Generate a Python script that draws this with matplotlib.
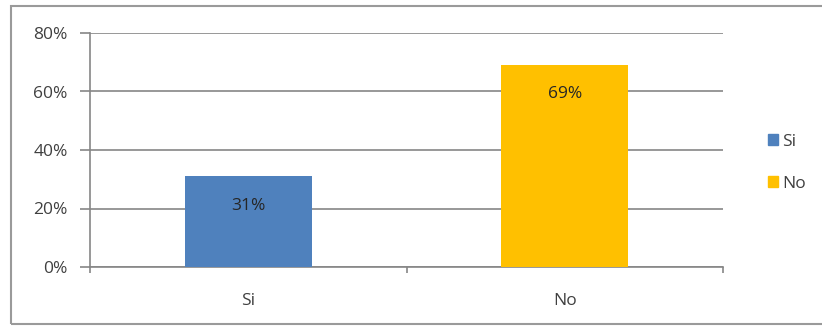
import matplotlib.pyplot as plt
from matplotlib.patches import Rectangle
from matplotlib.ticker import FixedLocator, PercentFormatter

categories = ["Si", "No"]
values = [31, 69]
colors = ["#4F81BD", "#FFC000"]
y_ticks = [0, 20, 40, 60, 80]

plt.rcParams["font.family"] = ["Open Sans", "DejaVu Sans"]
text_color = "#404040"
fs = 12.5

fig = plt.figure(figsize=(8.22, 3.26), dpi=100)
ax = fig.add_axes([90 / 822, 1 - 267 / 326, (723 - 90) / 822, (267 - 33) / 326])

x = list(range(len(categories)))
bars = ax.bar(x, values, width=0.4, color=colors, zorder=3)
for bar, v in zip(bars, values):
    ax.text(bar.get_x() + bar.get_width() / 2, v - 10, f"{v}%",
            ha="center", va="center", fontsize=fs, color="#262626", zorder=4)

ax.set_xlim(-0.5, len(categories) - 0.5)
ax.set_ylim(0, 80)
ax.set_yticks(y_ticks)
ax.yaxis.set_major_formatter(PercentFormatter(decimals=0))
ax.grid(axis="y", color="#868686", linewidth=1.2, zorder=1)

ax.set_xticks(x)
ax.set_xticklabels(categories)
ax.xaxis.set_minor_locator(FixedLocator([-0.5, 0.5, 1.5]))
ax.tick_params(axis="x", which="major", length=0, pad=19, labelsize=fs, labelcolor=text_color)
ax.tick_params(axis="x", which="minor", length=4, width=1.2, color="#868686")
ax.tick_params(axis="y", length=7, width=1.2, color="#868686", pad=9, labelsize=fs, labelcolor=text_color)

for side in ["top", "right"]:
    ax.spines[side].set_visible(False)
for side in ["left", "bottom"]:
    ax.spines[side].set_color("#868686")
    ax.spines[side].set_linewidth(1.2)

handles = [Rectangle((0, 0), 1, 1, color=c) for c in colors]
fig.legend(handles, categories, loc="center left", bbox_to_anchor=(752 / 822, 1 - 163 / 326),
           frameon=False, fontsize=fs, handlelength=0.6, handleheight=0.6,
           handletextpad=0.25, labelspacing=1.5, labelcolor=text_color)

# frame around the whole chart
fig.patches.append(Rectangle((11 / 822, 2 / 326), 1.0, 318 / 326, transform=fig.transFigure,
                             fill=False, edgecolor="#9a9a9a", linewidth=1.5))

fig.savefig("out.png", dpi=100)
